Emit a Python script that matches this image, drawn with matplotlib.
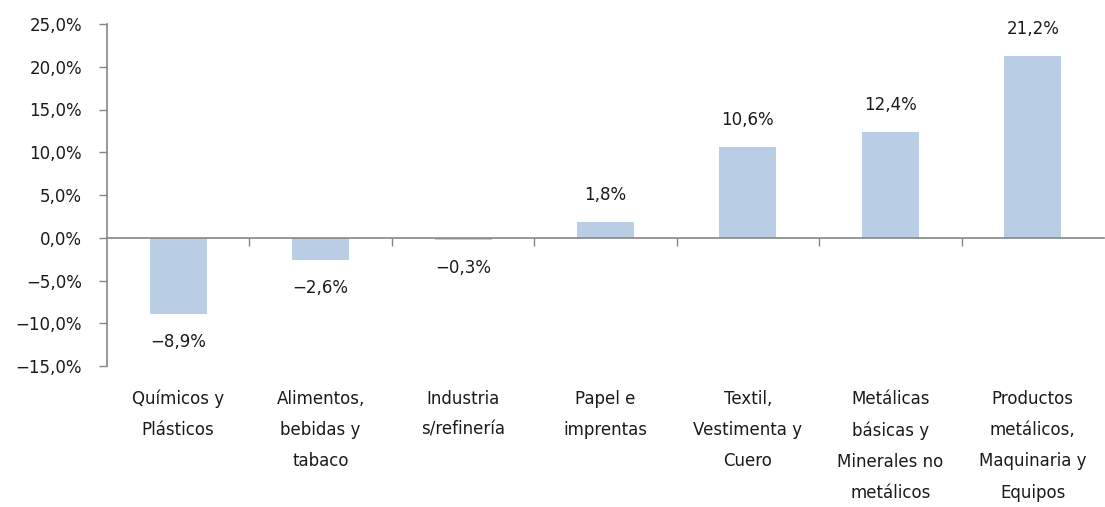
import matplotlib.pyplot as plt
import numpy as np

categories = ["Químicos y\nPlásticos", "Alimentos,\nbebidas y\ntabaco", "Industria\ns/refinería",
              "Papel e\nimprentas", "Textil,\nVestimenta y\nCuero", "Metálicas\nbásicas y\nMinerales no\nmetálicos",
              "Productos\nmetálicos,\nMaquinaria y\nEquipos"]
values = [-8.9, -2.6, -0.3, 1.8, 10.6, 12.4, 21.2]
yticks = [-15, -10, -5, 0, 5, 10, 15, 20, 25]

plt.rcParams['font.family'] = ['DejaVu Sans']
FS = 12
W, H = 1105, 507
fig = plt.figure(figsize=(W/100, H/100), dpi=100)
ax = fig.add_axes([107/W, 1-366/H, (1104-107)/W, (366-24)/H])

grey = '#868686'
txt = '#1a1a1a'
x = np.arange(len(values))
ax.bar(x, values, width=0.4, color='#B9CDE5', zorder=2)
ax.set_xlim(-0.5, len(values)-0.5)
ax.set_ylim(-15, 25)
ax.set_yticks(yticks)
ax.set_yticklabels([f"{v:.1f}%".replace('.', ',').replace('-', '\u2212') for v in yticks],
                   fontsize=FS, color=txt, family='DejaVu Sans')
ax.tick_params(axis='y', length=6, color=grey, pad=12, width=1)

for s in ['top', 'right']:
    ax.spines[s].set_visible(False)
ax.spines['left'].set_color(grey)
ax.spines['left'].set_linewidth(1.2)
ax.spines['bottom'].set_position(('data', 0))
ax.spines['bottom'].set_color(grey)
ax.spines['bottom'].set_linewidth(1.2)
ax.set_xticks(np.arange(0.5, len(values)-0.5, 1))
ax.set_xticklabels([])
ax.tick_params(axis='x', length=6, color=grey, width=1)

for xi, v in zip(x, values):
    lab = f"{v:.1f}%".replace('.', ',').replace('-', '\u2212')
    off = 19.5 if v >= 0 else -20
    ax.annotate(lab, (xi, v), xytext=(0, off), textcoords='offset points',
                ha='center', va='center', fontsize=FS, color=txt, family='DejaVu Sans')

for xi, c in zip(x, categories):
    ax.annotate(c, (xi, -15), xytext=(0, -17), textcoords='offset points',
                ha='center', va='top', fontsize=FS, color=txt, linespacing=1.95,
                family='DejaVu Sans', annotation_clip=False)

fig.savefig('out.png', dpi=100)
